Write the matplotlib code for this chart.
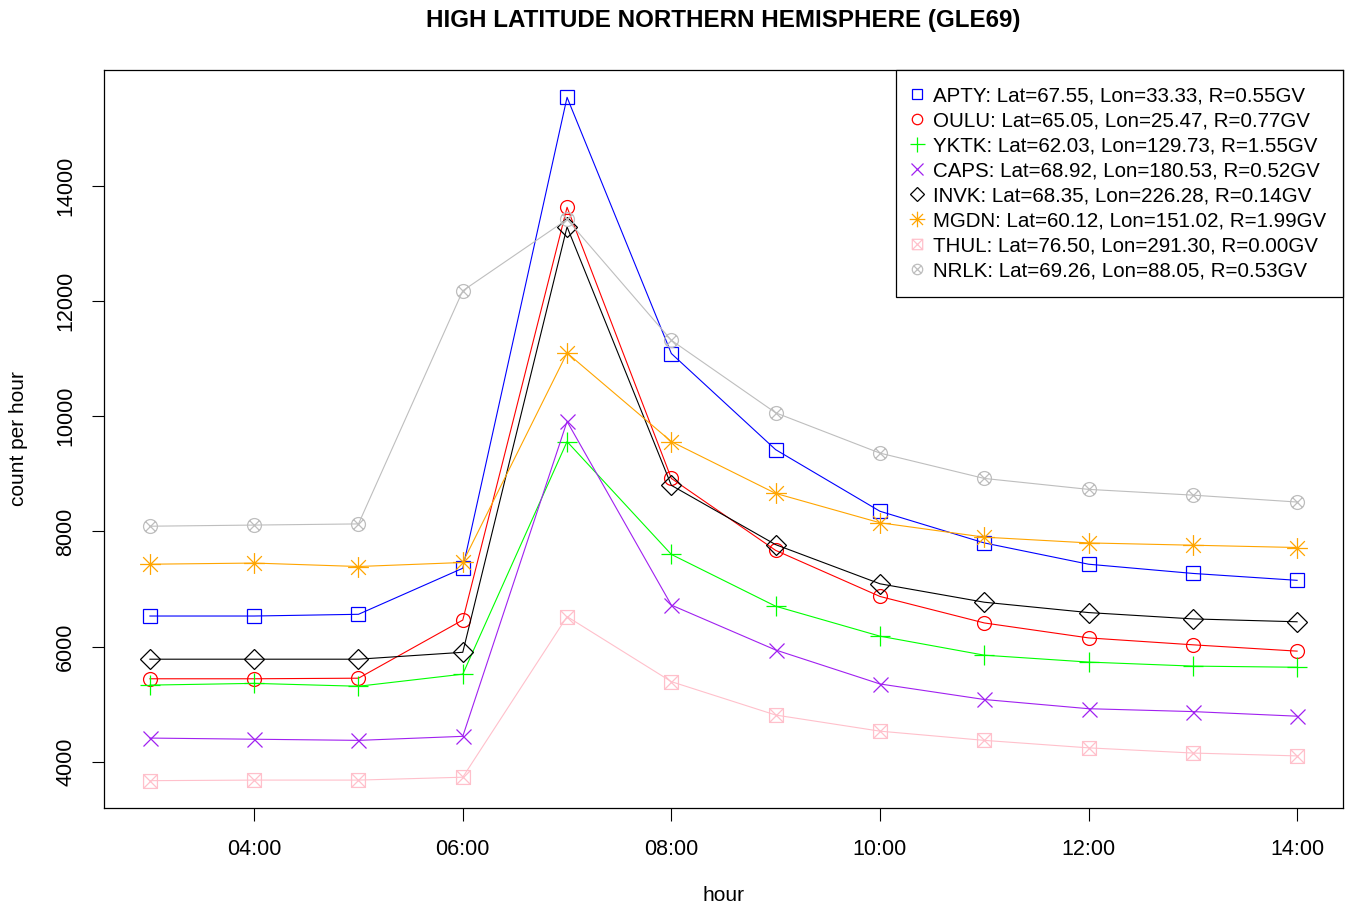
import numpy as np
import matplotlib
matplotlib.use('Agg')
import matplotlib.pyplot as plt
from matplotlib.path import Path
from matplotlib.lines import Line2D

# hours of the day (UT)
hours = [3, 4, 5, 6, 7, 8, 9, 10, 11, 12, 13, 14]
tick_hours = [4, 6, 8, 10, 12, 14]
tick_labels = ['04:00', '06:00', '08:00', '10:00', '12:00', '14:00']

# count per hour for each station
apty = [6530, 6530, 6560, 7360, 15540, 11090, 9420, 8350, 7800, 7430, 7270, 7150]
oulu = [5440, 5440, 5450, 6460, 13630, 8920, 7670, 6870, 6410, 6150, 6030, 5920]
yktk = [5330, 5360, 5310, 5520, 9560, 7600, 6700, 6180, 5850, 5730, 5660, 5640]
caps = [4410, 4390, 4370, 4440, 9910, 6720, 5940, 5350, 5080, 4920, 4870, 4790]
invk = [5780, 5780, 5780, 5900, 13290, 8800, 7770, 7090, 6770, 6590, 6480, 6430]
mgdn = [7430, 7450, 7390, 7460, 11100, 9560, 8660, 8150, 7900, 7800, 7760, 7720]
thul = [3670, 3680, 3680, 3730, 6520, 5390, 4810, 4530, 4370, 4240, 4150, 4100]
nrlk = [8090, 8110, 8130, 12180, 13420, 11320, 10060, 9360, 8920, 8730, 8630, 8510]

names = ['APTY: Lat=67.55, Lon=33.33, R=0.55GV',
         'OULU: Lat=65.05, Lon=25.47, R=0.77GV',
         'YKTK: Lat=62.03, Lon=129.73, R=1.55GV',
         'CAPS: Lat=68.92, Lon=180.53, R=0.52GV',
         'INVK: Lat=68.35, Lon=226.28, R=0.14GV',
         'MGDN: Lat=60.12, Lon=151.02, R=1.99GV',
         'THUL: Lat=76.50, Lon=291.30, R=0.00GV',
         'NRLK: Lat=69.26, Lon=88.05, R=0.53GV']
colors = ['#0000FF', '#FF0000', '#00FF00', '#A020F0',
          '#000000', '#FFA500', '#FFC0CB', '#BEBEBE']

# R style symbols that matplotlib does not have
d = 0.7071
asterisk = Path([(-1, 0), (1, 0), (0, -1), (0, 1), (-d, -d), (d, d), (-d, d), (d, -d)],
                [Path.MOVETO, Path.LINETO] * 4)
boxed_x = Path([(-1, -1), (1, -1), (1, 1), (-1, 1), (-1, -1),
                (-1, -1), (1, 1), (-1, 1), (1, -1)],
               [Path.MOVETO, Path.LINETO, Path.LINETO, Path.LINETO, Path.LINETO,
                Path.MOVETO, Path.LINETO, Path.MOVETO, Path.LINETO])
circ = Path.unit_circle()
circle_x = Path.make_compound_path(
    circ, Path([(-d, -d), (d, d), (-d, d), (d, -d)], [Path.MOVETO, Path.LINETO] * 2))

markers = ['s', 'o', '+', 'x', 'D', asterisk, boxed_x, circle_x]
sizes = [10.2, 10.0, 14.4, 10.8, 10.0, 15.0, 10.0, 10.0]

plt.rcParams['font.family'] = ['Liberation Sans', 'DejaVu Sans']

fig = plt.figure(figsize=(13.48, 9.08), dpi=100)
ax = fig.add_axes([104 / 1348, 100 / 908, 1239 / 1348, 738 / 908])

series = [apty, oulu, yktk, caps, invk, mgdn, thul, nrlk]
for y, c, m, s in zip(series, colors, markers, sizes):
    ax.plot(hours, y, color=c, linewidth=0.8, marker=m, markersize=s,
            markerfacecolor='none', markeredgecolor=c, markeredgewidth=0.9)

ax.margins(x=0.04, y=0.04)
ax.set_xticks(tick_hours)
ax.set_xticklabels(tick_labels)
ax.set_yticks([4000, 6000, 8000, 10000, 12000, 14000])
ax.set_yticklabels(['4000', '6000', '8000', '10000', '12000', '14000'],
                   rotation=90, va='center')
ax.tick_params(axis='both', length=9, width=0.8, labelsize=15.5)
ax.tick_params(axis='x', pad=13)
ax.tick_params(axis='y', pad=11)
for sp in ax.spines.values():
    sp.set_linewidth(0.9)

ax.set_xlabel('hour', fontsize=15)
ax.xaxis.label.set_va('center')
ax.xaxis.set_label_coords(0.5, -0.119)
ax.set_ylabel('count per hour', fontsize=15)
ax.yaxis.label.set_va('center')
ax.yaxis.set_label_coords(-0.0694, 0.5)

fig.suptitle('HIGH LATITUDE NORTHERN HEMISPHERE (GLE69)', x=723.5 / 1348,
             y=1 - 20 / 908, va='center', fontsize=17.4, fontweight='bold')

handles = [Line2D([], [], linestyle='none', marker=m, markersize=s * 0.75,
                  markerfacecolor='none', markeredgecolor=c, markeredgewidth=0.9)
           for c, m, s in zip(colors, markers, sizes)]
leg = ax.legend(handles, names, loc='upper right', borderaxespad=0, fontsize=14.8,
                fancybox=False, framealpha=1, edgecolor='black', handlelength=0.4,
                handletextpad=0.6, labelspacing=0.29, borderpad=0.8)
leg.get_frame().set_linewidth(0.9)

fig.savefig('out.png', dpi=100)
